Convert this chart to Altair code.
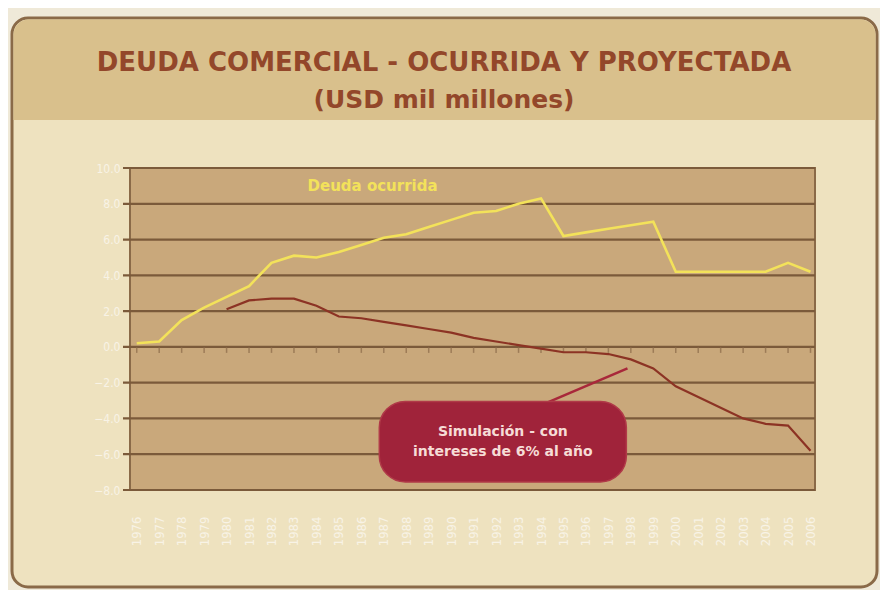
import altair as alt
import pandas as pd

# ---- data ----
years = list(range(1976, 2007))
ocurrida = [0.2, 0.3, 1.5, 2.2, 2.8, 3.4, 4.7, 5.1, 5.0, 5.3, 5.7, 6.1, 6.3, 6.7, 7.1, 7.5,
            7.6, 8.0, 8.3, 6.2, 6.4, 6.6, 6.8, 7.0, 4.2, 4.2, 4.2, 4.2, 4.2, 4.7, 4.2]
sim_years = list(range(1980, 2007))
simulacion = [2.1, 2.6, 2.7, 2.7, 2.3, 1.7, 1.6, 1.4, 1.2, 1.0, 0.8, 0.5, 0.3, 0.1, -0.1,
              -0.3, -0.3, -0.4, -0.7, -1.2, -2.2, -2.8, -3.4, -4.0, -4.3, -4.4, -5.8]
y_ticks = [10, 8, 6, 4, 2, 0, -2, -4, -6, -8]

title_text = "DEUDA COMERCIAL - OCURRIDA Y PROYECTADA"
subtitle_text = "(USD mil millones)"
series_label = "Deuda ocurrida"
label_pos = {"year": 1986.5, "value": 9.0}
box = {"x": 1986.8, "x2": 1997.8, "y": -3.05, "y2": -7.55}
arrow = {"x": [1994.3, 1997.85], "y": [-3.1, -1.2]}
box_lines = [
    {"year": 1992.3, "value": -4.75, "t": "Simulación - con"},
    {"year": 1992.3, "value": -5.9, "t": "intereses de 6% al año"},
]

W, H = 685, 322
xs = alt.Scale(domain=[1975.7, 2006.2], nice=False, zero=False)
ys = alt.Scale(domain=[-8, 10], nice=False, zero=False)

axis_x = alt.Axis(values=years, format="d", labelAngle=-90, labelColor="#f8f3e6", labelFontSize=13,
                  labelFont="DejaVu Sans Condensed", labelPadding=26, ticks=False, domain=False,
                  grid=False, title=None, zindex=2, labelOverlap=False, labelFlush=False)
axis_y = alt.Axis(values=y_ticks, format=".1f", labelColor="#f8f3e6", labelFontSize=12,
                  labelFont="DejaVu Sans Condensed", labelPadding=10, ticks=False, domain=False,
                  grid=False, title=None, zindex=2, labelOverlap=False, labelFlush=False)

X = lambda f: alt.X(f, scale=xs, axis=axis_x)
Y = lambda f: alt.Y(f, scale=ys, axis=axis_y)

df_o = pd.DataFrame({"year": years, "value": ocurrida})
df_s = pd.DataFrame({"year": sim_years, "value": simulacion})
df_grid = pd.DataFrame({"value": y_ticks})
df_one = pd.DataFrame({"a": [0]})
df_zero = pd.DataFrame({"year": years, "value": [0] * len(years)})

one = alt.Chart(df_one)

panel = one.mark_rect(fill="#eee2bf", stroke="#8a6a48", strokeWidth=3, cornerRadius=16).encode(
    x=alt.value(-118), x2=alt.value(747), y=alt.value(-150), y2=alt.value(419))
header = one.mark_rect(fill="#d9c08c", cornerRadiusTopLeft=15, cornerRadiusTopRight=15).encode(
    x=alt.value(-116.5), x2=alt.value(745.5), y=alt.value(-148.5), y2=alt.value(-48))
plotbg = one.mark_rect(fill="#c9a87b", stroke="#8a6a48", strokeWidth=2).encode(
    x=alt.value(0), x2=alt.value(W), y=alt.value(0), y2=alt.value(H))

title = one.mark_text(text=title_text, font="DejaVu Sans", fontSize=26, fontWeight="bold",
                      color="#93472a", align="center", baseline="middle").encode(
    x=alt.value(314), y=alt.value(-105))
subtitle = one.mark_text(text=subtitle_text, font="DejaVu Sans", fontSize=25, fontWeight="bold",
                         color="#93472a", align="center", baseline="middle").encode(
    x=alt.value(314), y=alt.value(-68))

grid = alt.Chart(df_grid).mark_rule(color="#7b5a3a", strokeWidth=2.2).encode(
    y=Y("value:Q"), x=alt.value(-7), x2=alt.value(W))

zero_ticks = alt.Chart(df_zero).mark_tick(color="#8a6a48", thickness=1.5, size=6, yOffset=3).encode(
    x=X("year:Q"), y=Y("value:Q"))

line_o = alt.Chart(df_o).mark_line(color="#f3e25a", strokeWidth=2.6).encode(
    x=X("year:Q"), y=Y("value:Q"))
line_s = alt.Chart(df_s).mark_line(color="#8c3324", strokeWidth=2.2).encode(
    x=X("year:Q"), y=Y("value:Q"))

lbl = alt.Chart(pd.DataFrame([label_pos])).mark_text(text=series_label, color="#f3e25a", fontSize=15,
                                                      fontWeight="bold", font="DejaVu Sans").encode(
    x=X("year:Q"), y=Y("value:Q"))

arrow_line = alt.Chart(pd.DataFrame(arrow)).mark_line(color="#a8283a", strokeWidth=2.6).encode(
    x=X("x:Q"), y=Y("y:Q"))
box_rect = alt.Chart(pd.DataFrame([box])).mark_rect(fill="#a0233a", stroke="#b03a48", strokeWidth=1.5,
                                                    cornerRadius=26).encode(
    x=X("x:Q"), x2="x2:Q", y=Y("y:Q"), y2="y2:Q")
box_text = alt.Chart(pd.DataFrame(box_lines)).mark_text(color="#f6dcd6", fontSize=14, fontWeight="bold",
                                                        font="DejaVu Sans").encode(
    x=X("year:Q"), y=Y("value:Q"), text="t:N")

chart = alt.layer(panel, header, plotbg, title, subtitle, grid, zero_ticks, line_s, line_o, lbl,
                  arrow_line, box_rect, box_text).properties(
    width=W, height=H,
    autosize=alt.AutoSizeParams(type="none"),
    padding={"left": 122, "top": 160, "right": 65, "bottom": 100},
).configure_view(strokeWidth=0).configure(background="#efe9d8")

chart.save("out.html", embed_options={"renderer": "svg", "actions": False})
